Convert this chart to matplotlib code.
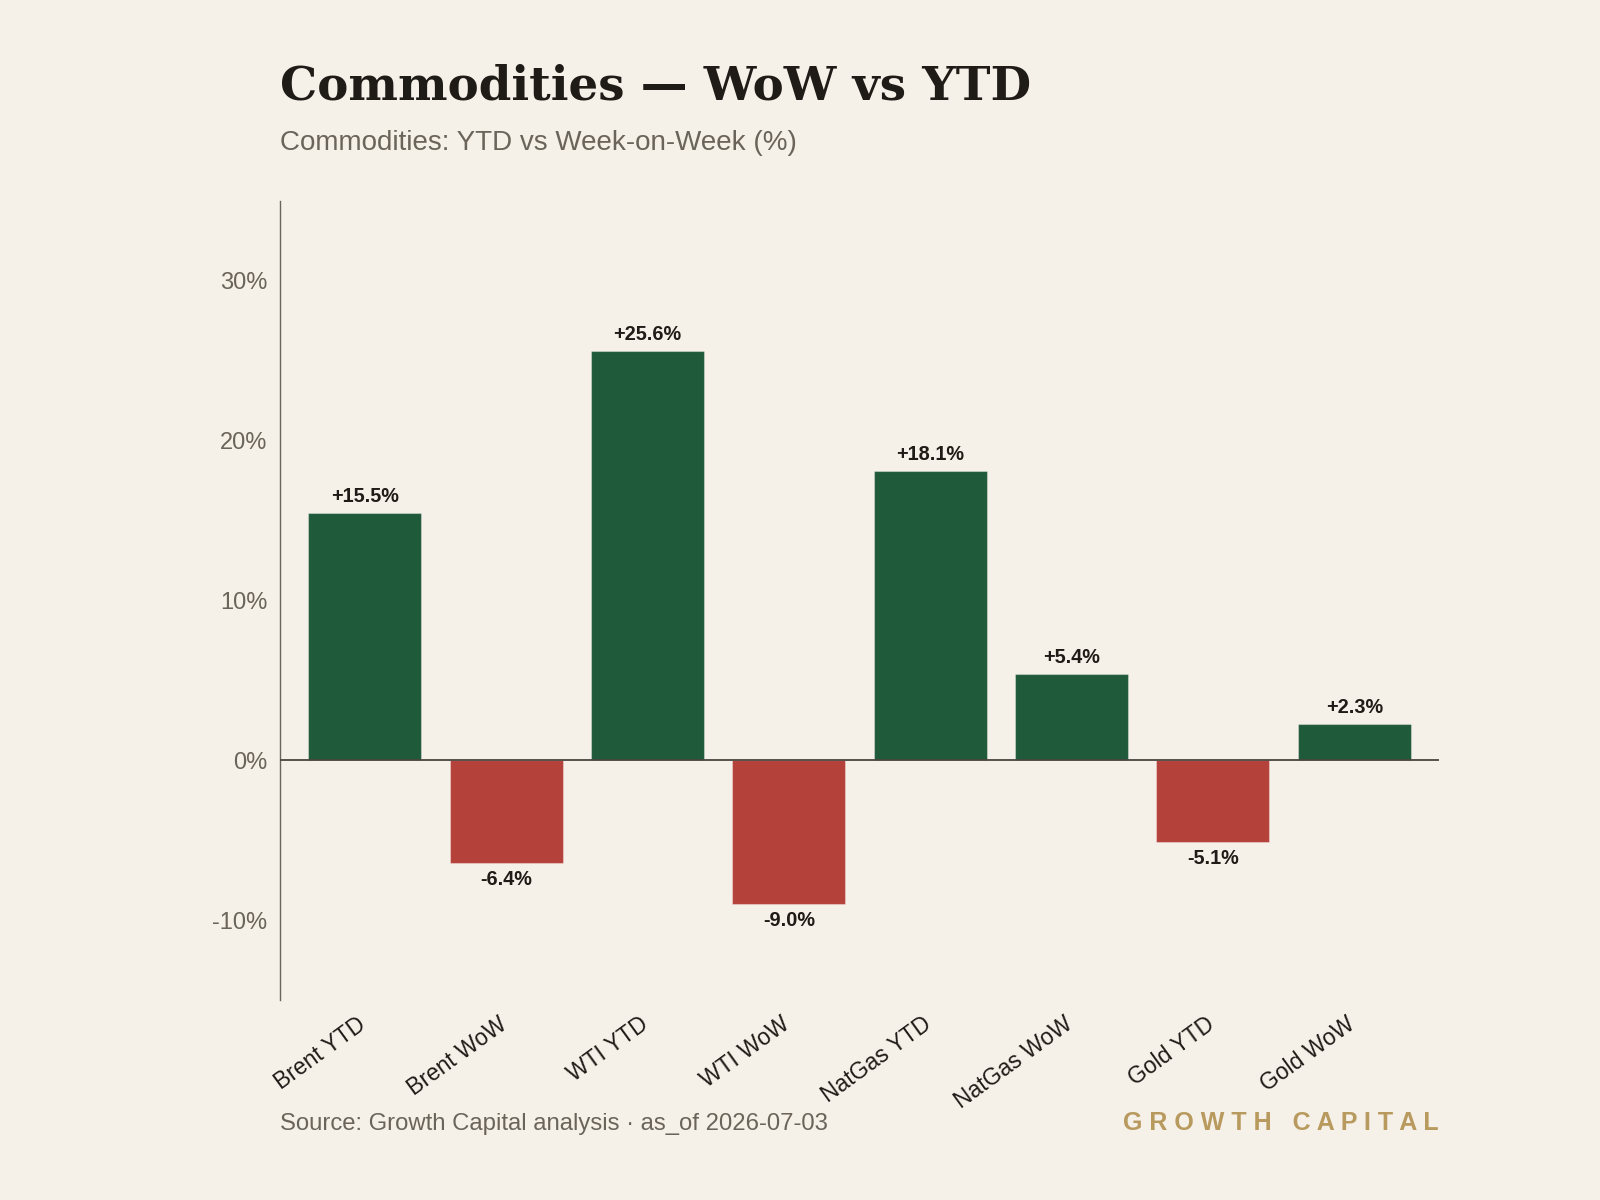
import numpy as np
import matplotlib.pyplot as plt
import matplotlib.transforms as mtransforms
from matplotlib.ticker import FuncFormatter

labels = ["Brent YTD", "Brent WoW", "WTI YTD", "WTI WoW",
          "NatGas YTD", "NatGas WoW", "Gold YTD", "Gold WoW"]
values = [15.5, -6.4, 25.6, -9.0, 18.1, 5.4, -5.1, 2.3]

bg = "#f5f0e8"
green = "#1f5a3a"
red = "#b5413b"
gold = "#b89a5e"
ink = "#1f1b16"
grey = "#6b645a"

plt.rcParams["font.family"] = ["Liberation Sans", "DejaVu Sans"]

fig = plt.figure(figsize=(16, 12), dpi=100, facecolor=bg)
ax = fig.add_axes([0.175, 1 - 1000 / 1200, 1159 / 1600, 799 / 1200], facecolor=bg)

x = np.arange(len(labels))
colors = [green if v >= 0 else red for v in values]
ax.bar(x, values, width=0.8, color=colors, edgecolor=(1, 1, 1, 0.35), linewidth=0.8, zorder=2)

for xi, v in zip(x, values):
    if v >= 0:
        ax.annotate(f"+{v:.1f}%", (xi, v), xytext=(0, 5), textcoords="offset points",
                    ha="center", va="bottom", fontsize=14.3, fontweight="bold", color=ink)
    else:
        ax.annotate(f"{v:.1f}%", (xi, v), xytext=(0, -5), textcoords="offset points",
                    ha="center", va="top", fontsize=14.3, fontweight="bold", color=ink)

ax.axhline(0, color="#4a4540", linewidth=1.3, zorder=3)
ax.set_ylim(-15, 35)
ax.set_xlim(-0.6, 7.6)
ax.set_yticks([-10, 0, 10, 20, 30])
ax.yaxis.set_major_formatter(FuncFormatter(lambda v, p: f"{v:.0f}%"))
ax.tick_params(axis="y", length=0, labelsize=17, labelcolor=grey, pad=9)
ax.set_xticks(x)
ax.set_xticklabels(labels, rotation=36, ha="right", rotation_mode="anchor", fontsize=16.5, color=ink)
ax.tick_params(axis="x", length=0, pad=9)
shift = mtransforms.ScaledTranslation(-8 / 100, 0, fig.dpi_scale_trans)
for lab in ax.get_xticklabels():
    lab.set_transform(lab.get_transform() + shift)
for s in ["top", "right", "bottom"]:
    ax.spines[s].set_visible(False)
ax.spines["left"].set_color("#6b645a")
ax.spines["left"].set_linewidth(1.0)

fig.text(280 / 1600, 1 - 99 / 1200, "Commodities \u2014 WoW vs YTD", fontsize=33.7, fontweight="bold",
         family=["DejaVu Serif"], color=ink, va="baseline")
fig.text(280 / 1600, 1 - 150 / 1200, "Commodities: YTD vs Week-on-Week (%)", fontsize=20,
         color=grey, va="baseline")
fig.text(280 / 1600, 1 - 1130 / 1200, "Source: Growth Capital analysis \u00b7 as_of 2026-07-03",
         fontsize=17.2, color=grey, va="baseline")
fig.text(1439 / 1600, 1 - 1130 / 1200, "G R O W T H   C A P I T A L", fontsize=18,
         fontweight="bold", color=gold, ha="right", va="baseline")

plt.savefig("out.png", dpi=100, facecolor=bg)
